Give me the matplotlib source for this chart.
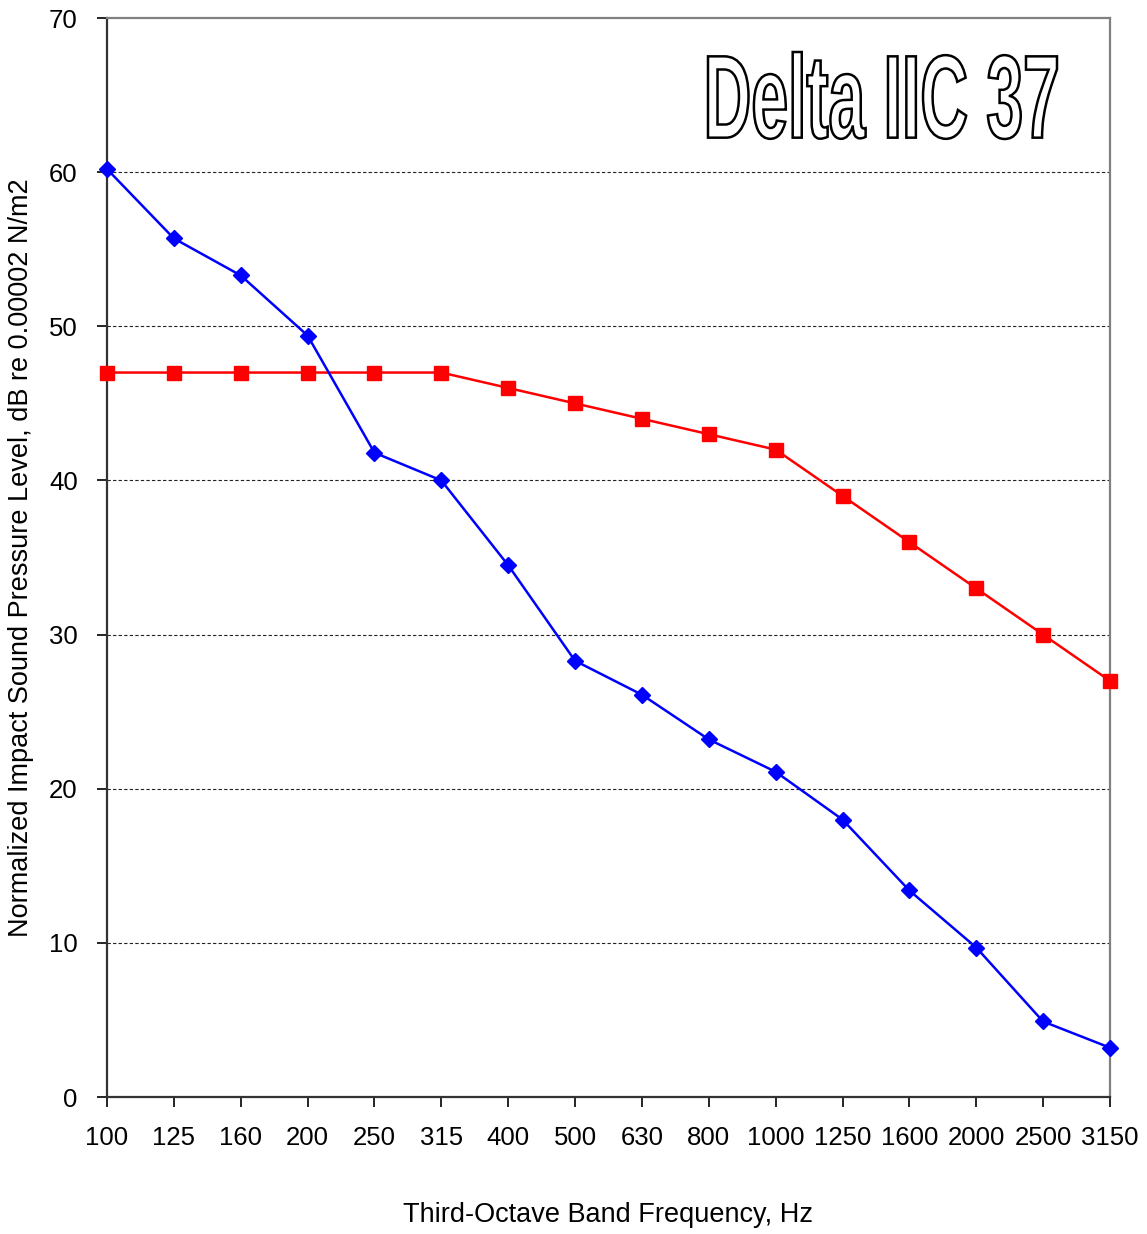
import numpy as np
import matplotlib.pyplot as plt
from matplotlib.textpath import TextPath
from matplotlib.font_manager import FontProperties
from matplotlib.patches import PathPatch
from matplotlib.transforms import Affine2D, IdentityTransform

#? Datos
bandas = ["100", "125", "160", "200", "250", "315", "400", "500", "630",
          "800", "1000", "1250", "1600", "2000", "2500", "3150"]
medido = [60.2, 55.7, 53.3, 49.4, 41.8, 40.0, 34.5, 28.3, 26.1,
          23.2, 21.1, 18.0, 13.4, 9.7, 4.9, 3.2]
referencia = [47, 47, 47, 47, 47, 47, 46, 45, 44, 43, 42, 39, 36, 33, 30, 27]
titulo = "Delta IIC 37"

plt.rcParams['font.family'] = ['Liberation Sans', 'DejaVu Sans']

fig = plt.figure(figsize=(11.47, 12.34), dpi=100)
ax = fig.add_axes([0.0933, 0.111, 0.8744, 0.8744])

x = np.arange(len(bandas))
ax.plot(x, referencia, color='#ff0000', lw=1.8, marker='s', markersize=10.5,
        clip_on=False, zorder=3)
ax.plot(x, medido, color='#0000ff', lw=1.8, marker='D', markersize=8.5,
        clip_on=False, zorder=4)

ax.set_xlim(0, len(bandas) - 1)
ax.set_ylim(0, 70)
ax.set_xticks(x)
ax.set_xticklabels(bandas)
ax.set_yticks(np.arange(0, 71, 10))

for yv in range(10, 70, 10):
    ax.axhline(yv, color='#222222', lw=0.8, ls=(0, (3, 2)), zorder=1)

for s in ['top', 'right']:
    ax.spines[s].set_color('#808080')
    ax.spines[s].set_linewidth(1.6)
for s in ['left', 'bottom']:
    ax.spines[s].set_color('#333333')
    ax.spines[s].set_linewidth(1.6)

ax.tick_params(axis='both', direction='out', length=7, width=1.2,
               labelsize=18.5, pad=14)

ax.set_xlabel("Third-Octave Band Frequency, Hz", fontsize=19.5)
ax.set_ylabel("Normalized Impact Sound Pressure Level, dB re 0.00002 N/m2",
              fontsize=19.5)
ax.xaxis.set_label_coords(0.5, -0.097)
ax.yaxis.set_label_coords(-0.073, 0.5)

#? Titulo con contorno, estrecho
fp = FontProperties(family='Liberation Sans', weight='bold')
tp = TextPath((0, 0), titulo, size=100, prop=fp)
ext = tp.get_extents()
ancho, alto = 349, 87
x0, ytop = 708, 52
H = 1234
tr = (Affine2D().translate(-ext.x0, -ext.y0)
      .scale(ancho / ext.width, alto / ext.height)
      .translate(x0, H - ytop - alto))
patch = PathPatch(tp, transform=tr + IdentityTransform(), facecolor='white',
                  edgecolor='black', lw=1.8)
fig.add_artist(patch)

fig.savefig("out.png", dpi=100)
